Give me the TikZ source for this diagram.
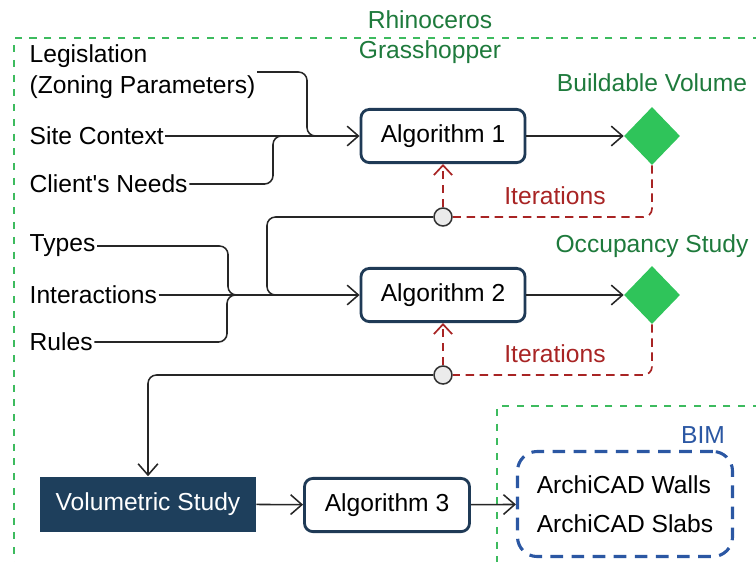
\documentclass[tikz,border=0pt]{standalone}
\usepackage{fontspec}
\setmainfont{Liberation Sans}
\usepackage{xcolor}
\definecolor{algoblue}{HTML}{1F3A56}
\definecolor{studyblue}{HTML}{1E3F5C}
\definecolor{rhinogreen}{HTML}{3DBB5E}
\definecolor{labelgreen}{HTML}{1E7A3C}
\definecolor{diamondgreen}{HTML}{2FC45A}
\definecolor{iterred}{HTML}{A82424}
\definecolor{bimblue}{HTML}{2B57A3}
\usepackage{tikz}
\usetikzlibrary{shapes.geometric, arrows.meta, positioning}

\begin{document}
\begin{tikzpicture}[x=0.025cm, y=-0.025cm,
  txt/.style={anchor=west, inner sep=1pt, align=left, font=\fontsize{17.5}{22}\selectfont},
  algo/.style={rectangle, rounded corners=6pt, draw=algoblue, line width=2pt, fill=white,
    minimum width=4.1cm, minimum height=1.33cm, font=\fontsize{17.5}{22}\selectfont},
  study/.style={rectangle, fill=studyblue, text=white, minimum width=5.4cm,
    minimum height=1.375cm, font=\fontsize{17.5}{22}\selectfont},
  result/.style={diamond, fill=diamondgreen, minimum width=1.4cm, minimum height=1.45cm, inner sep=0pt},
  reslabel/.style={text=labelgreen, font=\fontsize{17.5}{22}\selectfont},
  junc/.style={circle, draw=black!80, fill=black!8, line width=1.1pt, minimum size=0.45cm, inner sep=0pt},
  wire/.style={draw=black!85, line width=1.1pt, rounded corners=6pt},
  arr/.style={wire, -{Straight Barb[length=8pt, width=14pt]}},
  iter/.style={draw=iterred, line width=1.2pt, dash pattern=on 6pt off 4pt, rounded corners=6pt},
  itertxt/.style={text=iterred, font=\fontsize{17.5}{22}\selectfont},
  zone/.style={draw=rhinogreen, line width=1pt, dash pattern=on 5pt off 5.5pt},
  bimbox/.style={rectangle, draw=bimblue, line width=2.2pt, dash pattern=on 9pt off 6pt,
    rounded corners=14pt, minimum width=5.375cm, minimum height=2.625cm, align=left,
    font=\fontsize{17.5}{28}\selectfont}
]
\useasboundingbox (0,0) rectangle (756,561);

% zones
\draw[zone] (760,38) -- (14,38) -- (14,565);
\draw[zone] (760,406) -- (497,406) -- (497,565);
\node[text=labelgreen, align=center, font=\fontsize{17.5}{21.3}\selectfont] (rhino) at (430,37) {Rhinoceros\\Grasshopper};

% algorithm 1
\node[txt] (legis) at (28,72) {Legislation\\(Zoning Parameters)};
\node[txt] (site) at (28,136) {Site Context};
\node[txt] (client) at (28,184) {Client\textquotesingle s Needs};
\node[algo] (alg1) at (443,136) {Algorithm 1};
\node[result] (vol1) at (652,136) {};
\node[reslabel, above=7pt of vol1] (vol1lbl) {Buildable Volume};
\node[junc] (j1) at (443,217) {};
\node[itertxt] (it1) at (555,196) {Iterations};
\coordinate (m1) at (322,136);

\draw[arr] (site.east) -- (alg1.west);
\draw[wire] (legis.east) -| (307,136) -- (m1);
\draw[wire] (client.east) -| (273,136) -- (m1);
\draw[arr] (alg1) -- (vol1);
\draw[iter] (vol1.south) |- (j1.east);
\draw[iter, -{Straight Barb[length=7pt, width=13pt]}] (j1.north) -- (alg1.south);

% algorithm 2
\node[txt] (types) at (28,246) {Types};
\node[txt] (inter) at (28,295) {Interactions};
\node[txt] (rules) at (28,342) {Rules};
\node[algo] (alg2) at (443,295) {Algorithm 2};
\node[result] (occ) at (652,295) {};
\node[reslabel, above=2pt of occ] (occlbl) {Occupancy Study};
\node[junc] (j2) at (443,375) {};
\node[itertxt] (it2) at (555,354) {Iterations};
\coordinate (m2) at (282,295);
\coordinate (m3) at (242,295);

\draw[wire] (j1.west) -| (267,295) -- (m2);
\draw[arr] (inter.east) -- (alg2.west);
\draw[wire] (types.east) -| (228,295) -- (m3);
\draw[wire] (rules.east) -| (227,295) -- (m3);
\draw[arr] (alg2) -- (occ);
\draw[iter] (occ.south) |- (j2.east);
\draw[iter, -{Straight Barb[length=7pt, width=13pt]}] (j2.north) -- (alg2.south);

% algorithm 3 and BIM
\node[study] (volstudy) at (148,504) {Volumetric Study};
\node[algo, minimum width=4.125cm] (alg3) at (387,505) {Algorithm 3};
\node[bimbox] (bim) at (625,504) {ArchiCAD Walls\\ArchiCAD Slabs};
\node[text=bimblue, font=\fontsize{17.5}{22}\selectfont] (bimlbl) at (703,435) {BIM};

\draw[arr] (j2.west) -| (volstudy.north);
\draw[arr] (volstudy) -- (alg3);
\draw[arr] (alg3) -- (bim);
\end{tikzpicture}
\end{document}
